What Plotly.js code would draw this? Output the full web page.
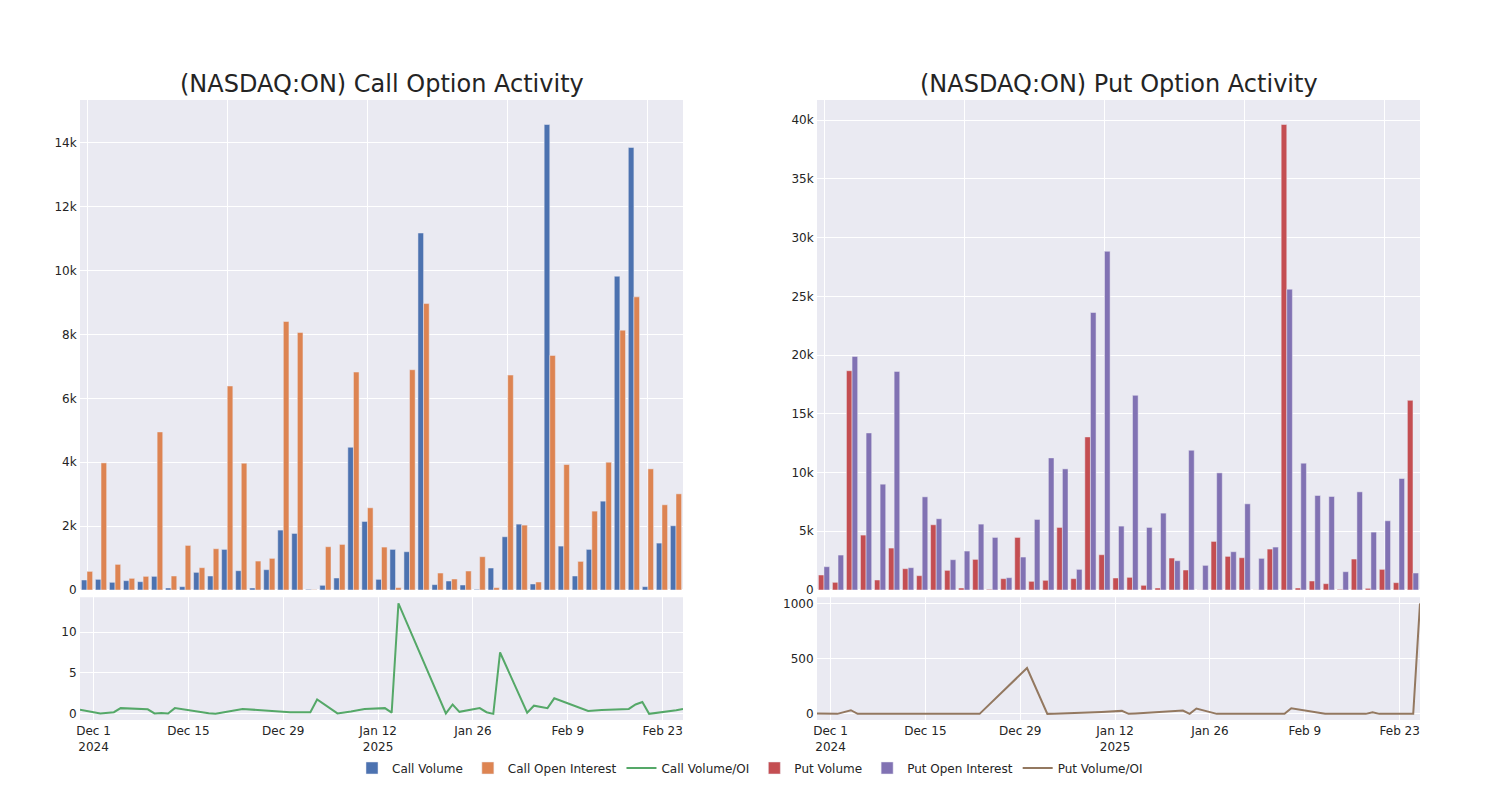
<!DOCTYPE html>
<html>
<head>
<meta charset="utf-8">
<script src="https://cdn.plot.ly/plotly-3.0.1.min.js"></script>
<style>html,body{margin:0;padding:0;background:#fff;}#chart{width:1500px;height:800px;}</style>
</head>
<body>
<div id="chart"></div>
<script>
// Trading dates that have data
const dates = ['2024-11-29','2024-12-02','2024-12-04','2024-12-05','2024-12-09','2024-12-10','2024-12-11','2024-12-12','2024-12-13','2024-12-16','2024-12-17','2024-12-18','2024-12-19','2024-12-23','2024-12-30','2025-01-02','2025-01-03','2025-01-06','2025-01-08','2025-01-10','2025-01-13','2025-01-14','2025-01-15','2025-01-22','2025-01-23','2025-01-24','2025-01-27','2025-01-28','2025-01-29','2025-01-30','2025-02-03','2025-02-04','2025-02-06','2025-02-07','2025-02-12','2025-02-13','2025-02-14','2025-02-18','2025-02-19','2025-02-20','2025-02-21','2025-02-25','2025-02-26'];

const callVolume = [313,333,240,292,260,427,63,104,552,438,1271,604,63,636,1876,1771,20,146,375,4470,2146,333,1271,1198,11180,167,281,156,20,688,1667,2063,188,14578,1375,438,1271,2782,9826,13859,104,1469,2011];
const callOI = [583,3980,802,365,427,4950,438,1396,698,1292,6388,3970,906,990,8409,8065,12,1355,1427,6825,2574,1344,73,6898,8970,531,344,594,1042,73,6731,2032,250,7346,3928,896,2470,4001,8138,9180,3793,2668,3011];
const callVolOI = [0.5,0.05,0.2,0.7,0.55,0.05,0.12,0.05,0.7,0.3,0.15,0.08,0.02,0.6,0.2,0.2,1.75,0.05,0.3,0.6,0.7,0.15,13.5,0.05,1.15,0.25,0.7,0.2,0.0,7.5,0.15,1.0,0.7,1.9,0.35,0.45,0.47,0.6,1.15,1.45,0.0,0.45,0.6];

const putVolume = [1275,652,18670,4675,850,3570,1813,1218,5553,1671,170,2606,57,963,4476,737,822,5326,963,13032,3003,1020,1077,397,170,2720,1700,10,4136,2861,2748,10,3485,39634,170,765,538,57,2635,142,1756,623,16148];
const putOI = [1983,2975,19890,13372,9009,18613,1898,7932,6063,2578,3315,5609,4476,1048,2805,6006,11247,10312,1756,23627,28840,5440,16573,5326,6544,2493,11899,2096,9972,3258,7337,2691,3655,25610,10794,8046,7961,1558,8357,4929,5893,9491,1445];
const putVolOI = [4,0,33,0,0,0,0,0,0,0,0,0,0,0,415,0,2,6,10,17,27,0,4,30,0,48,0,0,0,0,0,0,0,51,0,0,0,0,15,0,0,0,1000];

const titles = ['(NASDAQ:ON) Call Option Activity', '(NASDAQ:ON) Put Option Activity'];

const C = {
  callVol: 'rgb(76,114,176)', callOI: 'rgb(221,132,82)', callRatio: 'rgb(85,168,104)',
  putVol: 'rgb(196,78,82)', putOI: 'rgb(129,114,179)', putRatio: 'rgb(147,120,96)'
};
const barLine = {color: 'rgb(234,234,242)', width: 0.5};

const traces = [
  {type:'bar', name:'Call Volume', x:dates, y:callVolume, xaxis:'x', yaxis:'y', marker:{color:C.callVol, line:barLine}},
  {type:'bar', name:'Call Open Interest', x:dates, y:callOI, xaxis:'x', yaxis:'y', marker:{color:C.callOI, line:barLine}},
  {type:'scatter', mode:'lines', name:'Call Volume/OI', x:dates, y:callVolOI, xaxis:'x3', yaxis:'y3', line:{color:C.callRatio, width:2}},
  {type:'bar', name:'Put Volume', x:dates, y:putVolume, xaxis:'x2', yaxis:'y2', marker:{color:C.putVol, line:barLine}},
  {type:'bar', name:'Put Open Interest', x:dates, y:putOI, xaxis:'x2', yaxis:'y2', marker:{color:C.putOI, line:barLine}},
  {type:'scatter', mode:'lines', name:'Put Volume/OI', x:dates, y:putVolOI, xaxis:'x4', yaxis:'y4', line:{color:C.putRatio, width:2}}
];

const topDom = [0.2097, 1], botDom = [0, 0.198];
const leftDom = [0, 0.45], rightDom = [0.55, 1];
const axBase = {gridcolor:'white', linecolor:'white', zerolinecolor:'white', ticks:'', showgrid:true, automargin:false, tickfont:{size:12}};
const catAxis = Object.assign({}, axBase, {type:'category', dtick:10, showticklabels:false});
const dateAxis = Object.assign({}, axBase, {type:'date', tick0:'2024-12-01', dtick:14*86400000});

const layout = {
  width:1500, height:800,
  margin:{l:80, r:80, t:100, b:80},
  paper_bgcolor:'white', plot_bgcolor:'rgb(234,234,242)',
  font:{family:'"DejaVu Sans", Verdana, sans-serif', size:12, color:'rgb(36,36,36)'},
  barmode:'group',
  showlegend:true,
  legend:{orientation:'h', x:0.5, xanchor:'center', y:-0.0774, yanchor:'middle', font:{size:12}},
  xaxis: Object.assign({}, catAxis, {domain:leftDom, anchor:'y'}),
  yaxis: Object.assign({}, axBase, {domain:topDom, anchor:'x'}),
  xaxis2: Object.assign({}, catAxis, {domain:rightDom, anchor:'y2'}),
  yaxis2: Object.assign({}, axBase, {domain:topDom, anchor:'x2'}),
  xaxis3: Object.assign({}, dateAxis, {domain:leftDom, anchor:'y3'}),
  yaxis3: Object.assign({}, axBase, {domain:botDom, anchor:'x3'}),
  xaxis4: Object.assign({}, dateAxis, {domain:rightDom, anchor:'y4'}),
  yaxis4: Object.assign({}, axBase, {domain:botDom, anchor:'x4'}),
  annotations: [
    {text:titles[0], xref:'paper', yref:'paper', x:0.225, y:1, xanchor:'center', yanchor:'bottom', showarrow:false, font:{size:24}},
    {text:titles[1], xref:'paper', yref:'paper', x:0.775, y:1, xanchor:'center', yanchor:'bottom', showarrow:false, font:{size:24}}
  ]
};

Plotly.newPlot('chart', traces, layout, {displayModeBar:false, responsive:false});
</script>
</body>
</html>
